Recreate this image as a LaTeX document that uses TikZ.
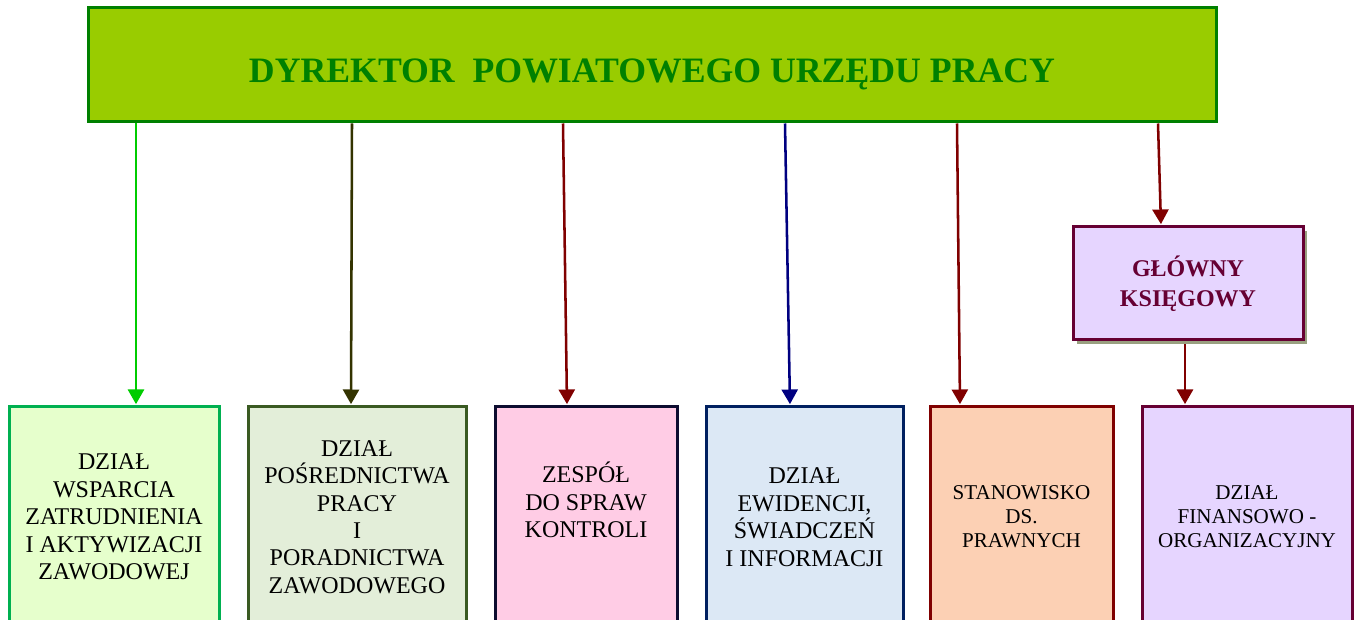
\documentclass[tikz,border=0pt]{standalone}
\usepackage{fontspec}
\setmainfont{Liberation Serif}
\usetikzlibrary{arrows.meta,shadows,backgrounds}
\definecolor{dirfill}{HTML}{99CC00}
\definecolor{dirdraw}{HTML}{008000}
\definecolor{chieftext}{HTML}{660033}
\definecolor{chieffill}{HTML}{E6D5FF}
\definecolor{chiefshadow}{HTML}{99A080}
\definecolor{arrowred}{HTML}{800000}
\definecolor{arrowgreen}{HTML}{00CC00}
\definecolor{arrowolive}{HTML}{333300}
\definecolor{arrownavy}{HTML}{000080}
\definecolor{wspdraw}{HTML}{00B050}
\definecolor{wspfill}{HTML}{E6FFCC}
\definecolor{posdraw}{HTML}{3A5A22}
\definecolor{posfill}{HTML}{E3EED9}
\definecolor{kondraw}{HTML}{0D0D30}
\definecolor{konfill}{HTML}{FFCCE5}
\definecolor{ewidraw}{HTML}{002060}
\definecolor{ewifill}{HTML}{DCE8F5}
\definecolor{prafill}{HTML}{FCD0B4}

\begin{document}
\begin{tikzpicture}[x=0.75pt,y=-0.75pt,thick]
	% `unitbox' is used for the departments at the bottom.
	% `link' is used for the arrows from the director.
	\tikzstyle{head} = [draw=dirdraw,fill=dirfill,line width=2.25pt,minimum width=846pt,minimum height=85.5pt,inner sep=0pt,text height=26pt,text depth=0pt,text=dirdraw,font=\fontsize{26.8}{30}\selectfont\bfseries]
	\tikzstyle{chief} = [draw=chieftext,fill=chieffill,line width=2.25pt,minimum width=172.5pt,minimum height=84.75pt,inner sep=0pt,align=center,text=chieftext,font=\fontsize{18}{22.5}\selectfont\bfseries,drop shadow={shadow xshift=3pt,shadow yshift=-3pt,fill=chiefshadow,opacity=1}]
	\tikzstyle{unitbox} = [line width=2.25pt,minimum height=165pt,inner sep=0pt,align=center,font=\fontsize{18}{20.6}\selectfont]
	\tikzstyle{smalltext} = [font=\fontsize{15.8}{18}\selectfont]
	\tikzstyle{link} = [line width=1.9pt,shorten >=1pt,-{Triangle[width=12pt,length=11pt]}]
	\useasboundingbox (0,0) rectangle (1354,620);
	\clip (0,0) rectangle (1354,620);
	%
	% Director on top.
	\node[head] (dyr) at (652,65) {DYREKTOR\ \ POWIATOWEGO URZĘDU PRACY};
	% Chief accountant.
	\node[chief] (gk) at (1188,283.5) {GŁÓWNY\\KSIĘGOWY};
	% Departments, left to right.
	\node[unitbox,draw=wspdraw,fill=wspfill,minimum width=157.5pt] (d1) at (114,517)
		{DZIAŁ\\WSPARCIA\\ZATRUDNIENIA\\I AKTYWIZACJI\\ZAWODOWEJ};
	\node[unitbox,draw=posdraw,fill=posfill,minimum width=163.5pt] (d2) at (357,517)
		{DZIAŁ\\POŚREDNICTWA\\PRACY\\I\\PORADNICTWA\\ZAWODOWEGO};
	\node[unitbox,draw=kondraw,fill=konfill,minimum width=136.5pt] (d3) at (586,517) {};
	\node[unitbox,draw=ewidraw,fill=ewifill,minimum width=147.75pt] (d4) at (804.5,517)
		{DZIAŁ\\EWIDENCJI,\\ŚWIADCZEŃ\\I INFORMACJI};
	\node[unitbox,smalltext,draw=arrowred,fill=prafill,minimum width=137.25pt] (d5) at (1021.5,517)
		{STANOWISKO\\DS.\\PRAWNYCH};
	\node[unitbox,smalltext,draw=chieftext,fill=chieffill,minimum width=157.5pt] (d6) at (1247,517)
		{DZIAŁ\\FINANSOWO -\\ORGANIZACYJNY};
	\node[align=center,font=\fontsize{18}{20.6}\selectfont] (t3) at ([yshift=12.75pt]d3.center) {ZESPÓŁ\\DO SPRAW\\KONTROLI};
	%
	\begin{pgfonlayer}{background}
		% Arrow ends.
		\coordinate (s1) at (136,0); \coordinate (e1) at (136,0);
		\coordinate (s2) at (352,0); \coordinate (e2) at (351,0);
		\coordinate (s3) at (563,0); \coordinate (e3) at (567,0);
		\coordinate (s4) at (785,0); \coordinate (e4) at (790,0);
		\coordinate (s5) at (957,0); \coordinate (e5) at (960,0);
		\coordinate (s6) at (1158,0); \coordinate (e6) at (1161,0);
		\coordinate (s7) at (1185,0);
		% Draw arrows.
		\draw[link,draw=arrowgreen,fill=arrowgreen] (dyr.south -| s1) -- (d1.north -| e1);
		\draw[link,draw=arrowolive,fill=arrowolive] (dyr.south -| s2) -- (d2.north -| e2);
		\draw[link,draw=arrowred,fill=arrowred] (dyr.south -| s3) -- (d3.north -| e3);
		\draw[link,draw=arrownavy,fill=arrownavy] (dyr.south -| s4) -- (d4.north -| e4);
		\draw[link,draw=arrowred,fill=arrowred] (dyr.south -| s5) -- (d5.north -| e5);
		\draw[link,draw=arrowred,fill=arrowred] (dyr.south -| s6) -- (gk.north -| e6);
		\draw[link,draw=arrowred,fill=arrowred] (gk.south -| s7) -- (d6.north -| s7);
	\end{pgfonlayer}
%
\end{tikzpicture}
\end{document}
